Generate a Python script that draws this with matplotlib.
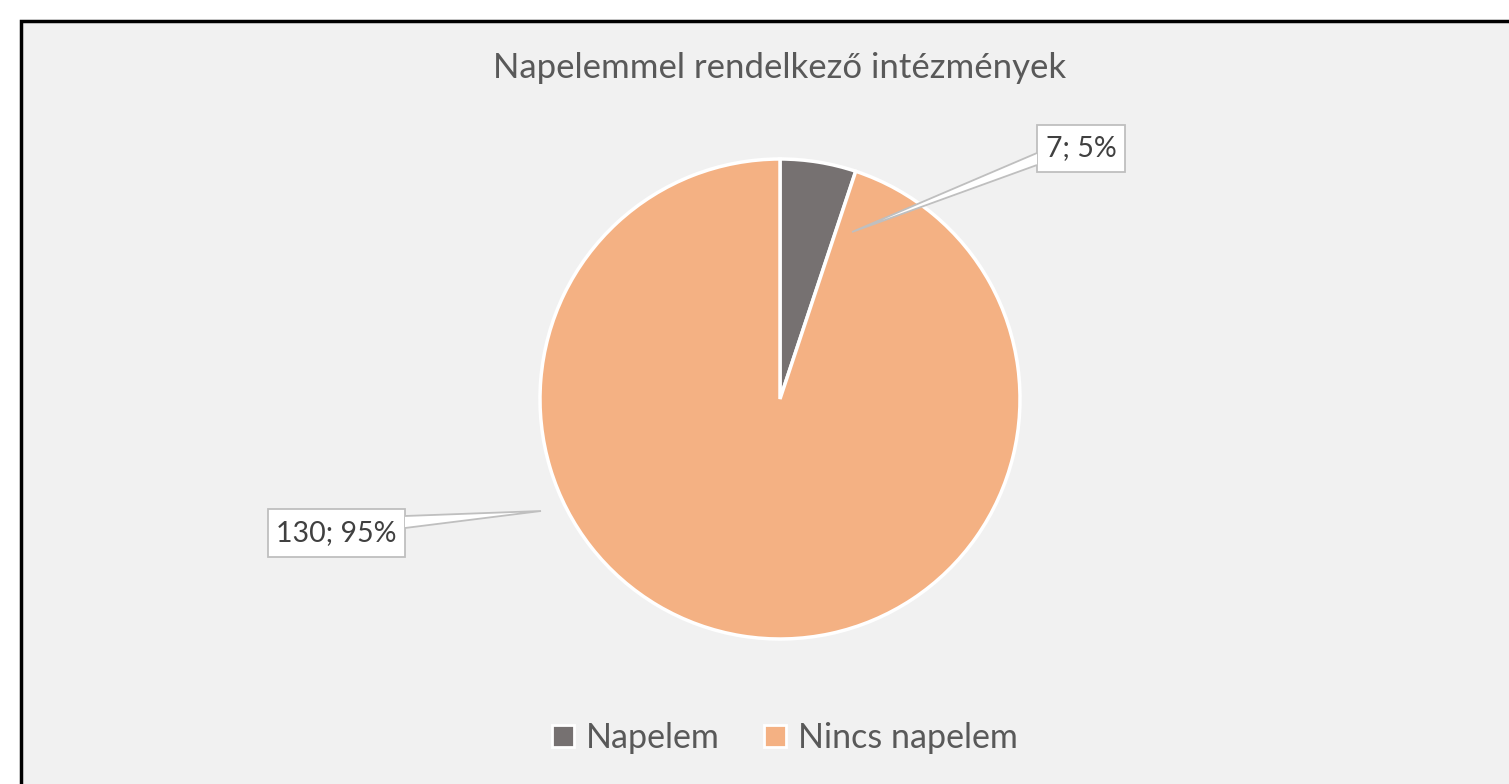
import matplotlib
matplotlib.use('Agg')
import matplotlib.pyplot as plt
from matplotlib.patches import Rectangle, Polygon

# data
labels = ['Napelem', 'Nincs napelem']
counts = [7, 130]
percents = ['5%', '95%']
colors = ['#767171', '#F4B183']
title = 'Napelemmel rendelkező intézmények'

W, H = 1509, 784
plt.rcParams['font.family'] = ['Lato', 'DejaVu Sans']

fig = plt.figure(figsize=(W / 100, H / 100), dpi=100)
fig.patch.set_facecolor('white')
ax = fig.add_axes([0, 0, 1, 1])

def py(y):
    # pixel row -> data y
    return H - y

cx, cy, r = 780, py(399), 240
wedges, _ = ax.pie(counts, colors=colors, startangle=90, counterclock=False,
                   center=(cx, cy), radius=r, frame=True,
                   wedgeprops=dict(edgecolor='white', linewidth=2.5))
ax.set_xlim(0, W)
ax.set_ylim(0, H)
ax.axis('off')

# chart area with black frame
ax.add_patch(Rectangle((21, py(800)), 1600, 779, facecolor='#F1F1F1',
                       edgecolor='black', linewidth=2.5, zorder=-1))

ax.text(cx, py(68), title, ha='center', va='center', fontsize=25, color='#595959')

# callout labels: box (x0, y0, x1, y1), pointer tip, pointer base on box
callouts = [
    ((1037, 125, 1125, 172), (852, 232), [(1037, 153), (1037, 165)]),
    ((268, 509, 405, 557), (541, 511), [(405, 516), (405, 528)]),
]
for i, (box, tip, base) in enumerate(callouts):
    x0, y0, x1, y1 = box
    ax.add_patch(Rectangle((x0, py(y1)), x1 - x0, y1 - y0, facecolor='white',
                           edgecolor='#BFBFBF', linewidth=1.3, zorder=4))
    pts = [(base[0][0], py(base[0][1])), (tip[0], py(tip[1])), (base[1][0], py(base[1][1]))]
    ax.add_patch(Polygon(pts, closed=False, facecolor='white', edgecolor='#BFBFBF',
                         linewidth=1.3, zorder=4))
    ax.text((x0 + x1) / 2, py((y0 + y1) / 2), f'{counts[i]}; {percents[i]}',
            ha='center', va='center', fontsize=20.5, color='#404040', zorder=5)

leg = ax.legend(wedges, labels, loc='center', bbox_to_anchor=(785 / W, 1 - 738 / H),
                ncol=2, frameon=False, fontsize=24.5, handlelength=0.65, handleheight=0.65,
                handletextpad=0.35, columnspacing=1.3, labelcolor='#595959')
for h in leg.legend_handles:
    h.set_edgecolor('white')
    h.set_linewidth(2)

fig.savefig('out.png', dpi=100)
